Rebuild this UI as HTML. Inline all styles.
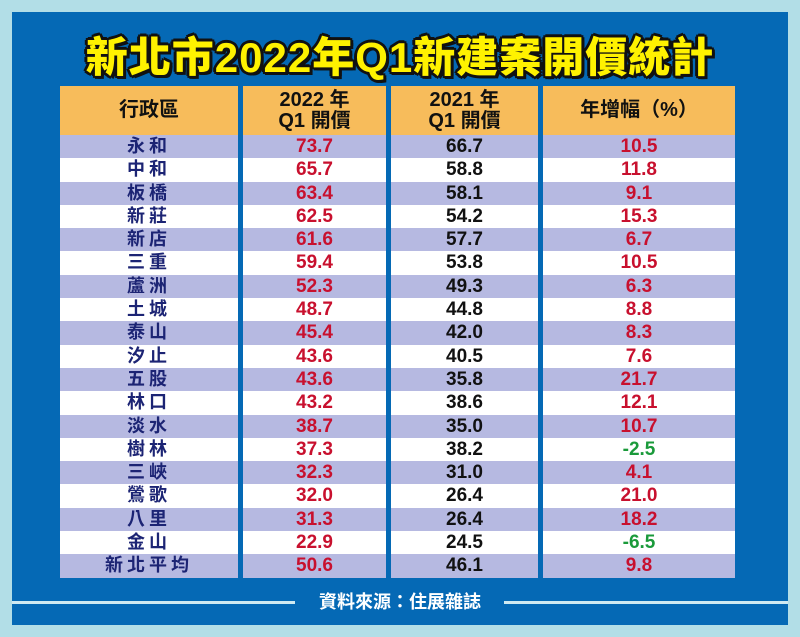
<!DOCTYPE html>
<html><head><meta charset="utf-8"><style>
body{margin:0;width:800px;height:637px;background:#b2dee7;position:relative;overflow:hidden;font-family:"Liberation Sans","Noto Sans CJK TC",sans-serif;}
#panel{position:absolute;left:12px;top:12px;width:776px;height:613px;background:#0569b5;}
#title{position:absolute;left:0;width:800px;top:24px;text-align:center;font-size:42px;font-weight:900;color:#fff200;letter-spacing:1px;text-shadow:3px 3px 0 #111,-2px -2px 0 #111,2px -2px 0 #111,-2px 2px 0 #111,2px 2px 0 #111,0 3px 0 #111,3px 0 0 #111,-3px 0 0 #111,0 -3px 0 #111;}
.col{position:absolute;top:86px;}
.h{height:49px;background:#f7bc5b;color:#111;font-weight:bold;font-size:20px;display:flex;align-items:center;justify-content:center;text-align:center;line-height:21px;}
.r{height:23.3px;line-height:23.3px;text-align:center;font-weight:bold;font-size:19px;}
.r:nth-child(even){background:#b6b9e1}
.r:nth-child(odd){background:#fff}
.n{color:#1c2474;letter-spacing:4px;font-size:18px}
.red{color:#c8102e}.blk{color:#111}.grn{color:#1a9a3a}
#foot{position:absolute;left:12px;width:776px;top:592px;height:20px;}
#foot .line{position:absolute;top:9px;height:3px;background:#cfeaf2;}
#foot .t{position:absolute;left:0;width:776px;text-align:center;color:#fff;font-weight:bold;font-size:18px;line-height:20px;}
</style></head><body>
<div id="panel"></div>
<div id="title">新北市2022年Q1新建案開價統計</div>
<div class="col" style="left:60px;width:178px">
<div class="h">行政區</div>
<div class="r n">永和</div><div class="r n">中和</div><div class="r n">板橋</div><div class="r n">新莊</div><div class="r n">新店</div><div class="r n">三重</div><div class="r n">蘆洲</div><div class="r n">土城</div><div class="r n">泰山</div><div class="r n">汐止</div><div class="r n">五股</div><div class="r n">林口</div><div class="r n">淡水</div><div class="r n">樹林</div><div class="r n">三峽</div><div class="r n">鶯歌</div><div class="r n">八里</div><div class="r n">金山</div><div class="r n">新北平均</div>
</div>
<div class="col red" style="left:243px;width:143px">
<div class="h">2022 年<br>Q1 開價</div>
<div class="r">73.7</div><div class="r">65.7</div><div class="r">63.4</div><div class="r">62.5</div><div class="r">61.6</div><div class="r">59.4</div><div class="r">52.3</div><div class="r">48.7</div><div class="r">45.4</div><div class="r">43.6</div><div class="r">43.6</div><div class="r">43.2</div><div class="r">38.7</div><div class="r">37.3</div><div class="r">32.3</div><div class="r">32.0</div><div class="r">31.3</div><div class="r">22.9</div><div class="r">50.6</div>
</div>
<div class="col blk" style="left:391px;width:147px">
<div class="h">2021 年<br>Q1 開價</div>
<div class="r">66.7</div><div class="r">58.8</div><div class="r">58.1</div><div class="r">54.2</div><div class="r">57.7</div><div class="r">53.8</div><div class="r">49.3</div><div class="r">44.8</div><div class="r">42.0</div><div class="r">40.5</div><div class="r">35.8</div><div class="r">38.6</div><div class="r">35.0</div><div class="r">38.2</div><div class="r">31.0</div><div class="r">26.4</div><div class="r">26.4</div><div class="r">24.5</div><div class="r">46.1</div>
</div>
<div class="col red" style="left:543px;width:192px">
<div class="h">年增幅（%）</div>
<div class="r">10.5</div><div class="r">11.8</div><div class="r">9.1</div><div class="r">15.3</div><div class="r">6.7</div><div class="r">10.5</div><div class="r">6.3</div><div class="r">8.8</div><div class="r">8.3</div><div class="r">7.6</div><div class="r">21.7</div><div class="r">12.1</div><div class="r">10.7</div><div class="r grn">-2.5</div><div class="r">4.1</div><div class="r">21.0</div><div class="r">18.2</div><div class="r grn">-6.5</div><div class="r">9.8</div>
</div>
<div id="foot"><div class="line" style="left:0;width:283px"></div><div class="line" style="left:492px;width:284px"></div><div class="t">資料來源：住展雜誌</div></div>
</body></html>
